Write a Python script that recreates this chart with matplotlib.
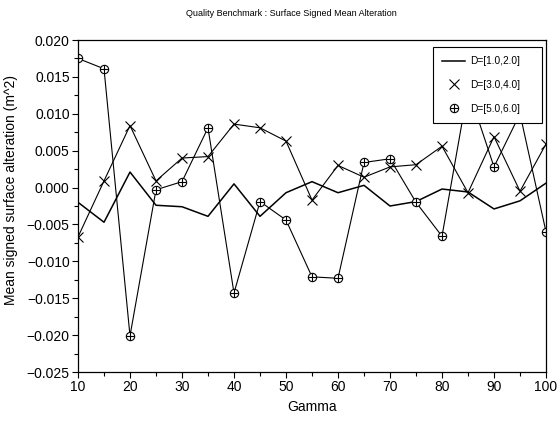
import matplotlib
matplotlib.use("Agg")
import matplotlib.pyplot as plt
from matplotlib.ticker import MultipleLocator, FuncFormatter
from matplotlib.legend_handler import HandlerTuple

plt.rcParams["font.family"] = ["Liberation Sans", "DejaVu Sans"]

gamma = [10, 15, 20, 25, 30, 35, 40, 45, 50, 55, 60, 65, 70, 75, 80, 85, 90, 95, 100]

d_1_2 = [-0.0020, -0.0047, 0.0021, -0.0024, -0.0026, -0.0039, 0.0005, -0.0039, -0.0007,
         0.0008, -0.0007, 0.0003, -0.0025, -0.0019, -0.0002, -0.0006, -0.0029, -0.0018, 0.0006]
d_3_4 = [-0.0067, 0.0009, 0.0084, 0.0009, 0.0040, 0.0042, 0.0086, 0.0081, 0.0063,
         -0.0017, 0.0030, 0.0014, 0.0028, 0.0031, 0.0056, -0.0007, 0.0069, -0.0005, 0.0059]
d_5_6 = [0.0175, 0.0161, -0.0201, -0.0003, 0.0008, 0.0081, -0.0143, -0.0019, -0.0044,
         -0.0121, -0.0123, 0.0034, 0.0039, -0.0020, -0.0066, 0.0134, 0.0028, 0.0100, -0.0060]

labels = ["D=[1.0,2.0]", "D=[3.0,4.0]", "D=[5.0,6.0]"]


def fmt(v, pos):
    v = round(v, 6)
    if v == 0:
        v = 0.0
    return f"{v:.3f}".replace("-", "\u2212")


fig = plt.figure(figsize=(5.59, 4.21), dpi=100)
ax = fig.add_axes([78 / 559, 1 - 372 / 421, 468 / 559, 332 / 421])

h1, = ax.plot(gamma, d_1_2, color="black", lw=1.1)

ax.plot(gamma, d_3_4, color="black", lw=0.8)
h2, = ax.plot(gamma, d_3_4, ls="none", marker="x", ms=7, mew=0.8, color="black")

ax.plot(gamma, d_5_6, color="black", lw=0.8)
c3, = ax.plot(gamma, d_5_6, ls="none", marker="o", ms=6, mfc="white", mec="black", mew=0.8)
p3, = ax.plot(gamma, d_5_6, ls="none", marker="+", ms=6, mew=0.8, color="black")

ax.set_xlim(10, 100)
ax.set_ylim(-0.025, 0.020)
ax.xaxis.set_major_locator(MultipleLocator(10))
ax.xaxis.set_minor_locator(MultipleLocator(5))
ax.yaxis.set_major_locator(MultipleLocator(0.005))
ax.yaxis.set_minor_locator(MultipleLocator(0.0025))
ax.yaxis.set_major_formatter(FuncFormatter(fmt))
ax.tick_params(which="both", direction="out", labelsize=10, width=0.8, pad=2)
ax.tick_params(which="major", length=4)
ax.tick_params(which="minor", length=3)
for s in ax.spines.values():
    s.set_linewidth(0.9)

ax.set_xlabel("Gamma", fontsize=10)
ax.set_ylabel("Mean signed surface alteration (m^2)", fontsize=10)
ax.yaxis.set_label_coords(-0.128, 0.548)

fig.text(291.5 / 559, 1 - 13 / 421, "Quality Benchmark : Surface Signed Mean Alteration",
         ha="center", va="center", fontsize=6.5)

# legend box: x 433..542, y 47..122 px
leg = ax.legend([h1, h2, (c3, p3)], labels, handler_map={tuple: HandlerTuple(ndivide=1)},
                loc="upper left", mode="expand",
                bbox_to_anchor=(433 / 559, 1 - 122 / 421, 109 / 559, 75 / 421),
                bbox_transform=fig.transFigure, fontsize=7.3, fancybox=False,
                edgecolor="black", framealpha=1, borderaxespad=0, handlelength=2.25,
                handletextpad=0.55, labelspacing=1.35, borderpad=0.9, numpoints=1)
leg.get_frame().set_linewidth(0.8)
leg.set_zorder(10)

fig.savefig("out.png", dpi=100)
